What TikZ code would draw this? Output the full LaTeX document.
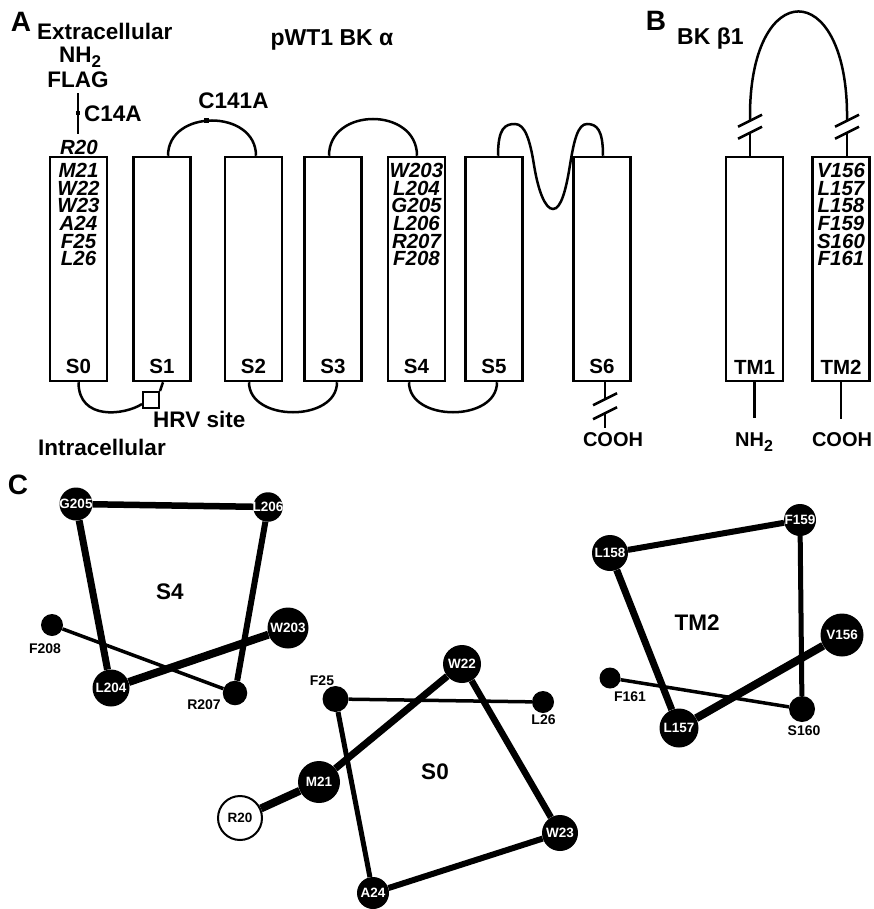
\documentclass[tikz,border=0pt]{standalone}
\usepackage{fontspec}
\setmainfont{Liberation Sans}
\newcommand\fsz[1]{\fontsize{#1}{#1}\selectfont}
\newcommand\zw[1]{\makebox[0pt][c]{#1}}
\begin{document}
\begin{tikzpicture}[x=1pt,y=-1pt,
  conn/.style={line width=2.5pt},
  tmbox/.style={draw,line width=2.5pt,minimum width=57pt,minimum height=224pt,inner sep=0pt},
  lbl/.style={font=\fsz{22.5}\bfseries,inner sep=0pt},
  endlbl/.style={font=\fsz{20}\bfseries,inner sep=0pt,anchor=base},
  boxlbl/.style={font=\fsz{20.5}\bfseries,inner sep=0pt,anchor=base},
  res/.style={font=\fsz{20.5}\bfseries\itshape,inner sep=0pt,anchor=base},
  reslist/.style={font=\fontsize{20.5}{17.6}\selectfont\bfseries\itshape,inner sep=0pt,align=center,anchor=north},
  aa/.style={circle,fill=black,text=white,inner sep=0pt,minimum size=#1,font=\fsz{13.5}\bfseries},
  aalbl/.style={font=\fsz{14}\bfseries,inner sep=0pt,anchor=base},
  panel/.style={font=\fsz{28}\bfseries,inner sep=0pt},
  dotm/.style={fill=black,inner sep=0pt,minimum size=4.5pt},
]
\fill[white] (0,0) rectangle (873,909);
\useasboundingbox (0,0) rectangle (873,909);

% ---------------- Panel A ----------------
\node[panel] (pA) at (21,22) {A};
\node[lbl,anchor=base west] (extra) at (37,40) {Extracellular};
\node[lbl,anchor=base] (nh2a) at (80,63) {NH\raisebox{-5pt}{\fsz{17}2}};
\node[lbl,anchor=base] (flag) at (78,88) {FLAG};
\node[res] (r20) at (79,155) {R20};
\draw[conn] ([yshift=-5]flag.south) -- ([yshift=6]flag.south |- r20.north);
\node[dotm] (c14dot) at (78,113) {};
\node[lbl,anchor=base west] (c14a) at (84,122) {C14A};
\node[font=\fsz{23}\bfseries,inner sep=0pt,anchor=base] (title) at (332,46) {pWT1 BK α};
\node[lbl,anchor=base] (c141a) at (233.5,109) {C141A};

\node[tmbox] (s0) at (78.5,269) {};
\node[tmbox] (s1) at (162,269) {};
\node[tmbox] (s2) at (253.5,269) {};
\node[tmbox] (s3) at (333,269) {};
\node[tmbox] (s4) at (416.5,269) {};
\node[tmbox] (s5) at (494,269) {};
\node[tmbox] (s6) at (602,269) {};
\foreach \b/\t in {s0/S0,s1/S1,s2/S2,s3/S3,s4/S4,s5/S5,s6/S6}
  \node[boxlbl] (\b l) at ([yshift=9]\b.south) {\t};

\node[reslist] (s0res) at ([yshift=-7.5]s0.north) {M21\\W22\\W23\\A24\\F25\\L26};
\node[reslist] (s4res) at ([yshift=-7.5]s4.north) {W203\\L204\\G205\\L206\\R207\\F208};

% extracellular loops
\coordinate (s1t) at ([xshift=6]s1.north);
\coordinate (s2t) at ([xshift=2.5]s2.north);
\coordinate (s3t) at ([xshift=-4]s3.north);
\coordinate (s4t) at ([xshift=0.5]s4.north);
\coordinate (s5t) at ([xshift=4]s5.north);
\coordinate (s6t) at ([xshift=1]s6.north);
\draw[conn] (s1t) .. controls +(0,-47) and +(0,-47) .. (s2t)
  node[pos=0.46,dotm] (c141dot) {};
\draw[conn] (s3t) .. controls +(0,-49) and +(0,-49) .. (s4t);
\draw[conn] (s5t) .. controls (498,128) and (505,124) .. (515,124)
  .. controls (525,124) and (530,140) .. (534,165)
  .. controls (538,190) and (545,209) .. (553,209)
  .. controls (561,209) and (566,190) .. (570,165)
  .. controls (574,140) and (578,124) .. (587,124)
  .. controls (597,124) and (603,130) .. (s6t);

% intracellular loops
\node[draw,line width=2pt,minimum size=16pt,inner sep=0pt] (hrv) at (151,400) {};
\draw[conn] (s0.south) .. controls +(0,39) and (125,415) .. ([yshift=-4]hrv.west);
\draw[conn] (hrv.north east) -- ([xshift=1]s1.south);
\coordinate (s2b) at ([xshift=-4.5]s2.south);
\coordinate (s3b) at ([xshift=4]s3.south);
\coordinate (s4b) at ([xshift=-7.5]s4.south);
\coordinate (s5b) at ([xshift=3]s5.south);
\draw[conn] (s2b) .. controls +(0,40) and +(0,40) .. (s3b);
\draw[conn] (s4b) .. controls +(0,40) and +(0,40) .. (s5b);
\node[lbl,anchor=base west] (hrvl) at (153,427) {HRV site};
\node[lbl,anchor=base west] (intra) at (38,455) {Intracellular};

% S6 C-terminus with break
\coordinate (s6b) at ([xshift=3]s6.south);
\coordinate (s6k1) at ([yshift=-17]s6b);
\coordinate (s6k2) at ([yshift=-31]s6b);
\coordinate (s6e) at ([yshift=-46]s6b);
\draw[conn] (s6b) -- (s6k1);
\draw[conn] (s6k2) -- (s6e);
\draw[conn] ([shift={(-12,6)}]s6k1) -- ([shift={(12,-6)}]s6k1);
\draw[conn] ([shift={(-12,6)}]s6k2) -- ([shift={(12,-6)}]s6k2);
\node[endlbl] (cooh6) at (613,446) {COOH};

% ---------------- Panel B ----------------
\node[panel] (pB) at (656,21) {B};
\node[font=\fsz{23}\bfseries,inner sep=0pt,anchor=base west] (bk) at (677,45) {BK β1};
\node[tmbox] (tm1) at (754.5,269) {};
\node[tmbox] (tm2) at (841,269) {};
\node[boxlbl] (tm1l) at ([yshift=8]tm1.south) {TM1};
\node[boxlbl] (tm2l) at ([yshift=8]tm2.south) {TM2};
\node[reslist] (tm2res) at ([yshift=-7.5]tm2.north) {V156\\L157\\L158\\F159\\S160\\F161};

\coordinate (b1) at ([xshift=-4.5]tm1.north);
\coordinate (b2) at ([xshift=6]tm2.north);
\coordinate (b1k1) at ([yshift=23]b1);
\coordinate (b1k2) at ([yshift=35]b1);
\coordinate (b2k1) at ([yshift=23]b2);
\coordinate (b2k2) at ([yshift=35]b2);
\coordinate (b1a) at ([yshift=44]b1);
\coordinate (b2a) at ([yshift=44]b2);
\draw[conn] (b1) -- (b1k1);
\draw[conn] (b2) -- (b2k1);
\draw[conn] (b1k2) -- (b1a) .. controls (752,-22) and (845,-22) .. (b2a) -- (b2k2);
\foreach \k in {b1k1,b1k2,b2k1,b2k2}
  \draw[conn] ([shift={(-12,6)}]\k) -- ([shift={(12,-6)}]\k);

\node[endlbl] (nh2b) at (754,446) {NH\raisebox{-5pt}{\fsz{16}2}};
\node[endlbl] (coohb) at (842,446) {COOH};
\draw[conn] (tm1.south) -- ([yshift=-36]tm1.south);
\draw[conn] (tm2.south) -- ([yshift=-37]tm2.south);

% ---------------- Panel C ----------------
\node[panel] (pC) at (18,485) {C};

% S4 wheel
\node[aa=41pt] (w203) at (288,628) {\zw{W203}};
\node[aa=37pt] (l204) at (111,688) {\zw{L204}};
\node[aa=33pt] (g205) at (76,504) {\zw{G205}};
\node[aa=29.5pt] (l206) at (268,507) {\zw{L206}};
\node[aa=24.5pt] (r207) at (235,693) {};
\node[aa=22pt] (f208) at (52,625) {};
\node[aalbl] (r207l) at (204,709) {R207};
\node[aalbl] (f208l) at (45,653) {F208};
\node[lbl] (s4w) at (170,592) {S4};
\draw[line width=8pt] (w203) -- (l204);
\draw[line width=7pt] (l204) -- (g205);
\draw[line width=6.5pt] (g205) -- (l206);
\draw[line width=6pt] (l206) -- (r207);
\draw[line width=3.5pt] (r207) -- (f208);

% S0 wheel
\node[circle,draw,line width=2pt,fill=white,inner sep=0pt,minimum size=44pt,font=\fsz{13.5}\bfseries] (r20w) at (240,818) {\zw{R20}};
\node[aa=42pt] (m21) at (319,782) {\zw{M21}};
\node[aa=38pt] (w22) at (462,664) {\zw{W22}};
\node[aa=36pt] (w23) at (560,833) {\zw{W23}};
\node[aa=32pt] (a24) at (373,893) {\zw{A24}};
\node[aa=26pt] (f25) at (335.5,699) {};
\node[aa=22pt] (l26) at (543,702) {};
\node[aalbl] (f25l) at (322,685) {F25};
\node[aalbl] (l26l) at (543.5,724) {L26};
\node[lbl] (s0w) at (435,772) {S0};
\draw[line width=8pt] (r20w) -- (m21);
\draw[line width=7pt] (m21) -- (w22);
\draw[line width=6.5pt] (w22) -- (w23);
\draw[line width=6pt] (w23) -- (a24);
\draw[line width=5pt] (a24) -- (f25);
\draw[line width=3.5pt] (f25) -- (l26);

% TM2 wheel
\node[aa=43pt] (v156) at (842,635) {\zw{V156}};
\node[aa=39pt] (l157) at (679,728) {\zw{L157}};
\node[aa=36pt] (l158) at (610,553) {\zw{L158}};
\node[aa=32pt] (f159) at (800,520) {\zw{F159}};
\node[aa=26pt] (s160) at (802,709) {};
\node[aa=21pt] (f161) at (610,678) {};
\node[aalbl] (f161l) at (630,701) {F161};
\node[aalbl] (s160l) at (804,735) {S160};
\node[lbl] (tm2w) at (697,623) {TM2};
\draw[line width=8pt] (v156) -- (l157);
\draw[line width=7pt] (l157) -- (l158);
\draw[line width=6pt] (l158) -- (f159);
\draw[line width=5pt] (f159) -- (s160);
\draw[line width=3.5pt] (s160) -- (f161);
\end{tikzpicture}
\end{document}
